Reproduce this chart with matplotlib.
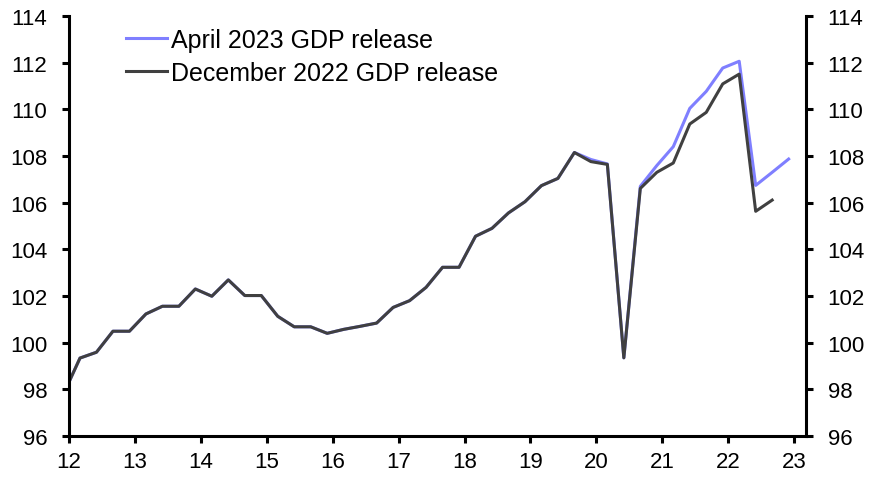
import matplotlib
matplotlib.use("Agg")
import matplotlib.pyplot as plt
import numpy as np
import pandas as pd

plt.rcParams['font.family'] = ['Liberation Sans', 'DejaVu Sans']

# Quarterly index levels (2011Q4 onwards)
quarters_april = pd.period_range('2011Q4', '2022Q4', freq='Q')
quarters_dec = pd.period_range('2011Q4', '2022Q3', freq='Q')

common_pre2019Q4 = [97.8, 99.34, 99.59, 100.49, 100.49, 101.23, 101.56, 101.56, 102.30,
                    101.99, 102.69, 102.02, 102.02, 101.13, 100.68, 100.68, 100.40,
                    100.57, 100.70, 100.84, 101.51, 101.80, 102.37, 103.23, 103.23,
                    104.56, 104.90, 105.56, 106.04, 106.73, 107.04, 108.15]

april_2023 = common_pre2019Q4 + [107.85, 107.66, 99.35, 106.70, 107.59, 108.40, 110.04,
                                 110.77, 111.77, 112.06, 106.74, 107.30, 107.87]
december_2022 = common_pre2019Q4 + [107.76, 107.64, 99.35, 106.61, 107.30, 107.70, 109.37,
                                    109.87, 111.09, 111.51, 105.63, 106.11]

series_labels = ["April 2023 GDP release", "December 2022 GDP release"]
x_tick_labels = ["12", "13", "14", "15", "16", "17", "18", "19", "20", "21", "22", "23"]
y_ticks = list(range(96, 115, 2))


def to_decimal_year(periods):
    ts = periods.asfreq('M', 'end').to_timestamp()
    return (ts.year - 2000) + (ts.month - 1) / 12.0


x_april = to_decimal_year(quarters_april)
x_dec = to_decimal_year(quarters_dec)

fig = plt.figure(figsize=(8.74, 4.81), dpi=100)
ax = fig.add_axes([69 / 874, 1 - 437 / 481, (806 - 69) / 874, (437 - 17) / 481])

ax.plot(x_april, april_2023, color='#7F7FFF', lw=2.2, label=series_labels[0])
ax.plot(x_dec, december_2022, color='#404040', lw=2.2, label=series_labels[1])

ax.set_xlim(12, 23.18)
ax.set_ylim(96, 114)
ax.set_xticks(range(12, 24))
ax.set_xticklabels(x_tick_labels)
ax.set_yticks(y_ticks)

ax.spines['top'].set_visible(False)
for s in ['left', 'right', 'bottom']:
    ax.spines[s].set_linewidth(2.2)
    ax.spines[s].set_color('black')

ax.tick_params(axis='both', which='major', direction='out', length=5, width=2.2,
               labelsize=16, colors='black')
ax.tick_params(axis='y', right=True, labelright=True, pad=10.5)
ax.tick_params(axis='x', pad=6)

leg = ax.legend(loc='upper left', bbox_to_anchor=((126 - 69) / 737, (437 - 29) / 420),
                frameon=False, fontsize=18, handlelength=1.65, handletextpad=0.15,
                labelspacing=0.35, borderaxespad=0, borderpad=0)

fig.savefig('out.png', dpi=100)
